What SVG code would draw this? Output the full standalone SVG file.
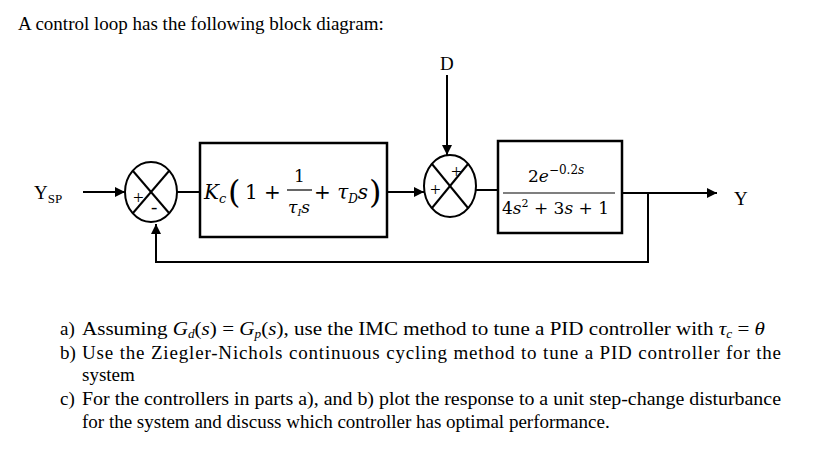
<svg xmlns="http://www.w3.org/2000/svg" width="832" height="452" viewBox="0 0 832 452">
<style>
.t{font-family:"Liberation Serif",serif;font-size:19px;fill:#000}
.m{font-family:"DejaVu Serif","Liberation Serif",serif;fill:#000}
.ln{stroke:#000;stroke-width:2;fill:none}
.bx{stroke:#000;stroke-width:2.5;fill:#fff}
</style>
<defs><marker id="ar" viewBox="0 0 10 10" refX="10" refY="5" markerWidth="10" markerHeight="10" markerUnits="userSpaceOnUse" orient="auto"><path d="M0,0L10,5L0,10z" fill="#000"/></marker></defs>
<rect width="832" height="452" fill="#fff"/>
<text class="t" x="18" y="30" font-size="20">A control loop has the following block diagram:</text>
<g id="connectors">
<line class="ln" x1="83" y1="192" x2="125" y2="192" marker-end="url(#ar)"/>
<line class="ln" x1="177" y1="192" x2="200" y2="192"/>
<line class="ln" x1="387" y1="192" x2="424" y2="192" marker-end="url(#ar)"/>
<line class="ln" x1="447" y1="75" x2="447" y2="155" marker-end="url(#ar)"/>
<line class="ln" x1="476" y1="190" x2="498" y2="190"/>
<line class="ln" x1="622" y1="193" x2="717" y2="193" marker-end="url(#ar)"/>
<polyline class="ln" points="648,193 648,262 156,262 156,224" marker-end="url(#ar)"/>
</g>
<g id="ysp"><text class="t" x="34" y="199" font-size="21">Y<tspan font-size="13" dy="4">SP</tspan></text></g>
<g id="sum1">
<ellipse cx="151" cy="192" rx="26" ry="30" class="ln"/>
<line class="ln" x1="133" y1="171" x2="169" y2="213" stroke-width="1.5"/>
<line class="ln" x1="169" y1="171" x2="133" y2="213" stroke-width="1.5"/>
<text class="t" x="133" y="204" font-size="16">+</text>
<text class="t" x="151" y="213" font-size="16">-</text>
</g>
<g id="controller">
<rect x="200" y="143" width="187" height="94" class="bx"/>
<text class="m" x="204" y="199" font-size="20" font-style="italic">K<tspan font-size="13" dy="4">c</tspan></text>
<text class="m" x="228" y="203" font-size="32">(</text>
<text class="m" x="245" y="199" font-size="20">1 +</text>
<text class="m" x="294" y="182" font-size="17">1</text>
<line x1="287" y1="190" x2="312" y2="190" stroke="#000" stroke-width="1.2"/>
<text class="m" x="288" y="213" font-size="17" font-style="italic">τ<tspan font-size="10" dy="3">I</tspan><tspan dy="-3">s</tspan></text>
<text class="m" x="314" y="199" font-size="20">+ <tspan font-style="italic">τ</tspan><tspan font-size="12" dy="4" font-style="italic">D</tspan><tspan dy="-4" font-style="italic">s</tspan></text>
<text class="m" x="369" y="203" font-size="32">)</text>
</g>
<g id="d"><text class="t" x="440" y="70">D</text></g>
<g id="sum2">
<ellipse cx="450" cy="186" rx="26" ry="31" class="ln"/>
<line class="ln" x1="432" y1="164" x2="468" y2="208" stroke-width="1.5"/>
<line class="ln" x1="468" y1="164" x2="432" y2="208" stroke-width="1.5"/>
<text class="t" x="451" y="178" font-size="15">+</text>
<text class="t" x="430" y="196" font-size="15">+</text>
</g>
<g id="plant">
<rect x="498" y="141" width="124" height="92" class="bx"/>
<text class="m" x="528" y="182" font-size="17">2<tspan font-style="italic">e</tspan><tspan font-size="12" dy="-8">−0.2<tspan font-style="italic">s</tspan></tspan></text>
<line x1="503" y1="193" x2="615" y2="193" stroke="#000" stroke-width="1.2"/>
<text class="m" x="502" y="214" font-size="17">4<tspan font-style="italic">s</tspan><tspan font-size="11" dy="-7">2</tspan><tspan dy="7"> + 3</tspan><tspan font-style="italic">s</tspan> + 1</text>
</g>
<g id="y"><text class="t" x="734" y="205" font-size="20">Y</text></g>
<g id="questions">
<text class="t" x="60" y="335">a)</text>
<text class="t" x="82" y="335" textLength="683" lengthAdjust="spacingAndGlyphs">Assuming <tspan font-style="italic">G</tspan><tspan font-size="12" font-style="italic" dy="3">d</tspan><tspan dy="-3">(</tspan><tspan font-style="italic">s</tspan>) = <tspan font-style="italic">G</tspan><tspan font-size="12" font-style="italic" dy="3">p</tspan><tspan dy="-3">(</tspan><tspan font-style="italic">s</tspan>), use the IMC method to tune a PID controller with  <tspan font-style="italic">τ</tspan><tspan font-size="12" font-style="italic" dy="3">c</tspan><tspan dy="-3"> = </tspan><tspan font-style="italic">θ</tspan></text>
<text class="t" x="60" y="359">b)</text>
<text class="t" x="82" y="359" textLength="699" lengthAdjust="spacing">Use the Ziegler-Nichols continuous cycling method to tune a PID controller for the</text>
<text class="t" x="82" y="381">system</text>
<text class="t" x="60" y="405">c)</text>
<text class="t" x="82" y="405" textLength="699" lengthAdjust="spacingAndGlyphs">For the controllers in parts a), and b) plot the response to a unit step-change disturbance</text>
<text class="t" x="82" y="428">for the system and discuss which controller has optimal performance.</text>
</g>
</svg>
